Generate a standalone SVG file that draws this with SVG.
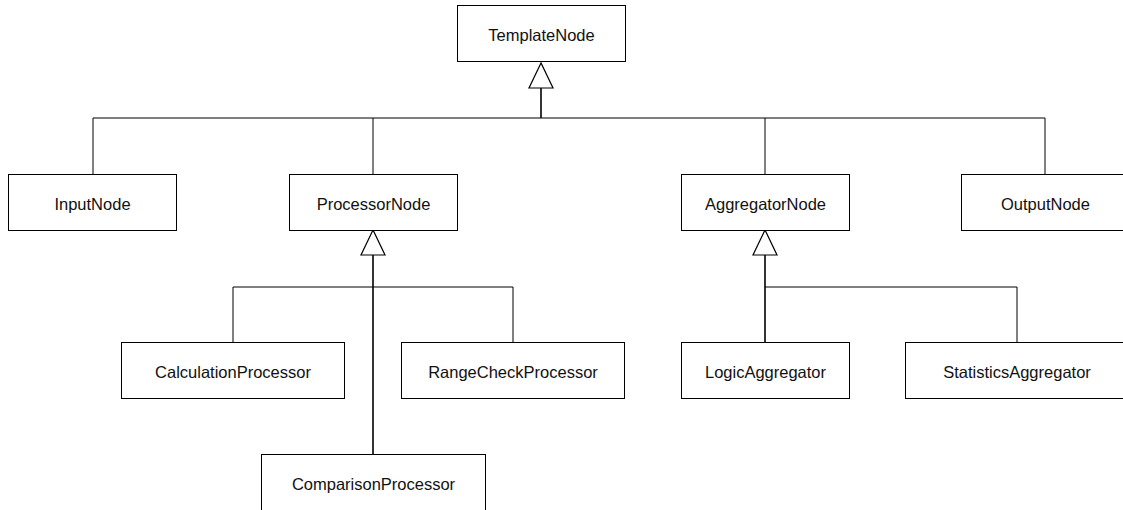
<svg xmlns="http://www.w3.org/2000/svg" width="1123" height="510" viewBox="0 0 1123 510">
  <style>
    .box { fill: #ffffff; stroke: #000000; stroke-width: 1; }
    .lbl { font-family: "Liberation Sans", Arial, sans-serif; font-size: 16.5px; fill: #111111; text-anchor: middle; dominant-baseline: central; }
    .edge { fill: none; stroke: #000000; stroke-width: 1; }
    .trunk { fill: none; stroke: #000000; stroke-width: 1.6; }
    .tri { fill: #ffffff; stroke: #000000; stroke-width: 1.2; }
  </style>
  <rect width="1123" height="510" fill="#ffffff"/>

  <g id="connectors">
    <!-- TemplateNode generalisation -->
    <path class="edge" d="M93 174 V118 H1045 V174"/>
    <path class="edge" d="M373 174 V118"/>
    <path class="edge" d="M765 174 V118"/>
    <path class="trunk" d="M541 88 V118"/>
    <polygon class="tri" points="541,63 529,88 553,88"/>

    <!-- ProcessorNode generalisation -->
    <path class="edge" d="M233 343 V287 H513 V343"/>
    <path class="trunk" d="M373 255 V454"/>
    <polygon class="tri" points="373,230 361,255 385,255"/>

    <!-- AggregatorNode generalisation -->
    <path class="edge" d="M765 287 H1017 V343"/>
    <path class="trunk" d="M765 255 V343"/>
    <polygon class="tri" points="765,230 753,255 777,255"/>
  </g>

  <g id="TemplateNode">
    <rect class="box" x="457.5" y="5.5" width="168" height="56"/>
    <text class="lbl" x="541.5" y="34.5">TemplateNode</text>
  </g>
  <g id="InputNode">
    <rect class="box" x="8.5" y="174.5" width="168" height="56"/>
    <text class="lbl" x="92.5" y="203.5">InputNode</text>
  </g>
  <g id="ProcessorNode">
    <rect class="box" x="289.5" y="174.5" width="168" height="56"/>
    <text class="lbl" x="373.5" y="203.5">ProcessorNode</text>
  </g>
  <g id="AggregatorNode">
    <rect class="box" x="681.5" y="174.5" width="168" height="56"/>
    <text class="lbl" x="765.5" y="203.5">AggregatorNode</text>
  </g>
  <g id="OutputNode">
    <rect class="box" x="961.5" y="174.5" width="168" height="56"/>
    <text class="lbl" x="1045.5" y="203.5">OutputNode</text>
  </g>
  <g id="CalculationProcessor">
    <rect class="box" x="121.5" y="342.5" width="223" height="56"/>
    <text class="lbl" x="233" y="371.5">CalculationProcessor</text>
  </g>
  <g id="RangeCheckProcessor">
    <rect class="box" x="401.5" y="342.5" width="223" height="56"/>
    <text class="lbl" x="513" y="371.5">RangeCheckProcessor</text>
  </g>
  <g id="ComparisonProcessor">
    <rect class="box" x="261.5" y="454.5" width="224" height="56"/>
    <text class="lbl" x="373.5" y="483.5">ComparisonProcessor</text>
  </g>
  <g id="LogicAggregator">
    <rect class="box" x="681.5" y="342.5" width="168" height="56"/>
    <text class="lbl" x="765.5" y="371.5">LogicAggregator</text>
  </g>
  <g id="StatisticsAggregator">
    <rect class="box" x="905.5" y="342.5" width="223" height="56"/>
    <text class="lbl" x="1017" y="371.5">StatisticsAggregator</text>
  </g>
</svg>
